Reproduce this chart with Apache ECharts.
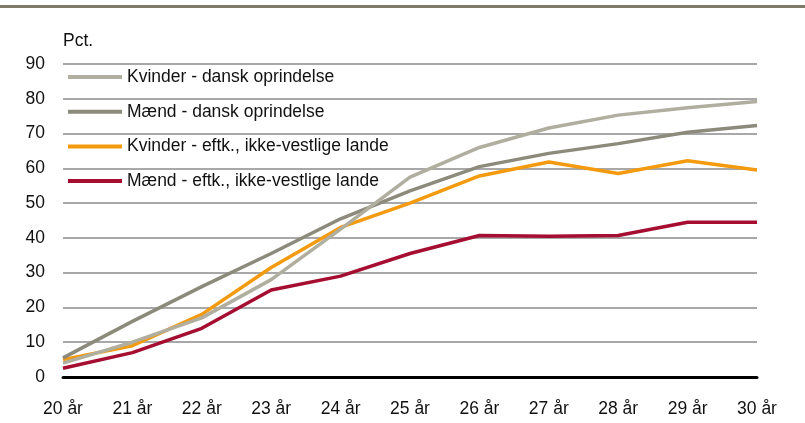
<!DOCTYPE html>
<html>
<head>
<meta charset="utf-8">
<script src="https://cdn.jsdelivr.net/npm/echarts@6/dist/echarts.min.js"></script>
<style>
  html, body { margin: 0; padding: 0; background: #fff; }
  #chart { width: 805px; height: 423px; }
</style>
</head>
<body>
<div id="chart"></div>
<script>
// alder
const categories = ['20 år', '21 år', '22 år', '23 år', '24 år', '25 år', '26 år', '27 år', '28 år', '29 år', '30 år'];
const kvinderDansk = [4, 10, 17, 28, 42.5, 57.5, 66, 71.6, 75.3, 77.4, 79.2];
const maendDansk = [5.5, 16, 26, 35.5, 45.5, 53.5, 60.5, 64.3, 67.1, 70.4, 72.3];
const kvinderIkkeVest = [5, 9, 18, 31.5, 43, 50, 57.8, 61.8, 58.5, 62.2, 59.5];
const maendIkkeVest = [2.5, 7, 14, 25, 29, 35.5, 40.7, 40.5, 40.7, 44.5, 44.5];

const colors = ['#b0ae9f', '#8c8a7b', '#f39a0f', '#a50d31'];
const names = ['Kvinder - dansk oprindelse', 'Mænd - dansk oprindelse', 'Kvinder - eftk., ikke-vestlige lande', 'Mænd - eftk., ikke-vestlige lande'];
const values = [kvinderDansk, maendDansk, kvinderIkkeVest, maendIkkeVest];

var myChart = echarts.init(document.getElementById('chart'));
myChart.setOption({
    animation: false,
    color: colors,
    textStyle: { fontFamily: 'Liberation Sans, Arial, sans-serif' },
    graphic: [{
        type: 'rect',
        shape: { x: 0, y: 5, width: 805, height: 3 },
        style: { fill: '#7d7a69' }
    }],
    grid: { left: 63, right: 48, top: 64, bottom: 46 },
    legend: {
        orient: 'vertical',
        left: 68,
        top: 68,
        padding: 0,
        icon: 'rect',
        itemWidth: 54,
        itemHeight: 4,
        itemGap: 16.7,
        textStyle: { fontSize: 17.5, color: '#111' },
        data: names
    },
    xAxis: {
        type: 'category',
        boundaryGap: false,
        data: categories,
        axisLine: { lineStyle: { color: '#000', width: 3 } },
        axisTick: { show: false },
        axisLabel: { fontSize: 17.5, color: '#111', margin: 23 }
    },
    yAxis: {
        type: 'value',
        min: 0,
        max: 90,
        interval: 10,
        name: 'Pct.',
        nameGap: 14,
        nameTextStyle: { fontSize: 17.5, color: '#111', align: 'left' },
        axisLine: { show: false },
        axisTick: { show: false },
        axisLabel: { fontSize: 17.5, color: '#111', margin: 18 },
        splitLine: { lineStyle: { color: '#a8a8a8', width: 2 } }
    },
    series: names.map((n, i) => ({
        name: n,
        type: 'line',
        data: values[i],
        symbol: 'none',
        lineStyle: { width: 3.5 },
        z: 10 - i
    }))
});
</script>
</body>
</html>
